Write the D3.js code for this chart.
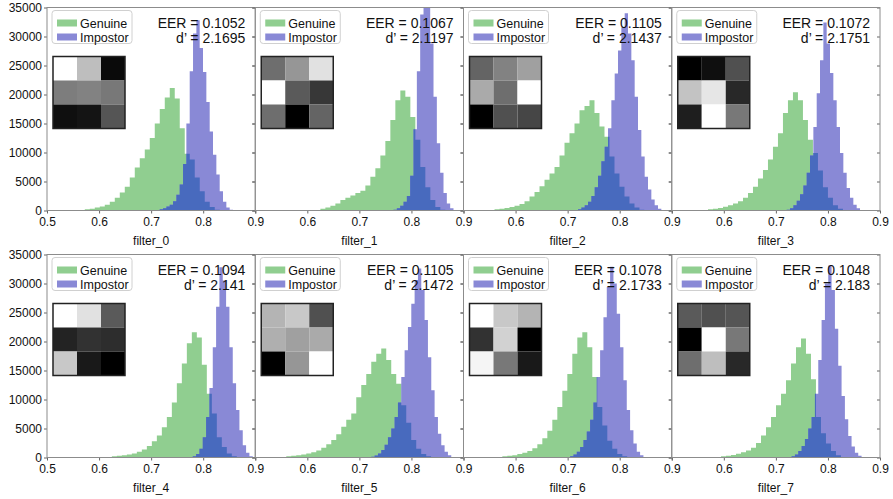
<!DOCTYPE html>
<html>
<head>
<meta charset="utf-8">
<script src="https://cdn.jsdelivr.net/npm/d3@7"></script>
<style>
  body { margin: 0; background: #fff; }
  text { font-family: "Liberation Sans", Arial, Helvetica, sans-serif; }
</style>
</head>
<body>
<svg id="chart" width="893" height="499"></svg>
<script>
// Panel labels and scores
const filterNames = ['filter_0', 'filter_1', 'filter_2', 'filter_3', 'filter_4', 'filter_5', 'filter_6', 'filter_7'];
const eerValues = [0.1052, 0.1067, 0.1105, 0.1072, 0.1094, 0.1105, 0.1078, 0.1048];
const dPrimeValues = [2.1695, 2.1197, 2.1437, 2.1751, 2.141, 2.1472, 2.1733, 2.183];

// 3x3 filter weights shown as grey levels (0 = black, 255 = white), row major
const filterWeights = [
  [255, 190, 10, 125, 130, 120, 15, 20, 85],
  [110, 150, 225, 255, 90, 55, 110, 0, 100],
  [100, 130, 160, 170, 110, 255, 0, 80, 70],
  [0, 15, 80, 195, 230, 40, 30, 255, 120],
  [255, 225, 90, 35, 50, 45, 200, 25, 0],
  [180, 200, 80, 175, 160, 170, 0, 150, 255],
  [255, 200, 180, 50, 210, 0, 245, 120, 25],
  [90, 80, 85, 0, 255, 120, 110, 190, 40]
];

// Histogram bins (left edge of first bin + counts per bin)
const genuineBinWidth = 0.0096;
const impostorBinWidth = 0.0064;

const genuineStart = [0.563, 0.6155, 0.550, 0.560, 0.615, 0.550, 0.565, 0.585];
const genuineCounts = [
  [100, 200, 300, 500, 700, 1000, 1500, 2200, 3100, 4100, 5700, 7400, 9000, 10500, 12500, 15000, 17500, 19500, 21100, 19300, 14200, 9800, 8800, 5700, 3300, 1500, 600, 150],
  [100, 300, 500, 800, 1200, 1800, 2200, 2600, 3000, 3400, 4300, 5800, 7300, 9500, 12000, 15600, 19000, 20700, 19600, 16100, 12200, 7500, 4000, 1800, 600, 150],
  [100, 200, 300, 450, 600, 800, 1100, 1600, 2400, 3200, 4200, 5300, 6400, 7500, 9500, 11700, 13300, 15000, 17300, 18000, 19000, 16800, 14500, 12700, 9300, 6400, 4100, 2400, 1200, 500, 150],
  [100, 200, 300, 450, 650, 900, 1200, 1600, 2200, 3000, 4100, 5500, 7000, 8800, 11000, 13300, 16800, 19000, 20400, 19000, 15600, 12200, 9900, 6900, 4000, 2200, 900, 300, 100],
  [100, 200, 300, 400, 500, 700, 1000, 1400, 2000, 2800, 3800, 5200, 7000, 9500, 12800, 16200, 19700, 21600, 20700, 16000, 11000, 7600, 3500, 1800, 700, 200],
  [100, 200, 300, 400, 500, 700, 900, 1200, 1700, 2300, 3000, 4000, 5300, 6500, 7600, 10400, 12500, 14400, 16500, 17900, 18800, 16800, 14400, 12700, 9000, 6000, 3000, 1500, 600, 200],
  [100, 200, 300, 400, 600, 800, 1100, 1600, 2300, 3300, 4600, 6500, 8700, 11500, 14400, 17900, 20700, 21600, 19000, 13900, 8700, 5500, 2900, 1500, 600, 200],
  [100, 200, 300, 450, 650, 900, 1200, 1700, 2500, 3800, 5200, 7000, 9000, 11000, 13300, 16200, 19000, 20500, 17900, 13500, 7000, 4200, 2400, 1100, 400, 100]
];

const impostorStart = [0.7165, 0.7656, 0.7200, 0.7208, 0.7800, 0.7229, 0.7048, 0.7302];
const impostorCounts = [
  [200, 400, 700, 1000, 1600, 2700, 4500, 8000, 15000, 24000, 30500, 32800, 28000, 23900, 18700, 13600, 9600, 6200, 3300, 1500, 500, 150],
  [150, 400, 800, 1500, 2500, 6000, 14000, 24000, 33800, 40000, 38000, 28800, 19600, 11600, 6500, 3000, 1200, 400, 100],
  [200, 500, 900, 1500, 2500, 4000, 6000, 8500, 11000, 14200, 19000, 23600, 27600, 31600, 34000, 30500, 25900, 19600, 13900, 9300, 5800, 3600, 1900, 900, 300],
  [150, 400, 900, 1700, 2800, 4300, 6500, 9500, 14400, 20200, 25900, 32400, 28800, 23700, 19000, 14400, 9900, 6500, 3900, 2200, 1000, 400, 100],
  [200, 600, 1500, 3500, 7000, 12000, 19000, 26000, 32800, 30500, 26000, 19000, 12800, 8200, 4700, 2100, 800, 200],
  [150, 350, 700, 1300, 2200, 3500, 5000, 7000, 9500, 13900, 18500, 22500, 26500, 30600, 32600, 28900, 23700, 17300, 11600, 7000, 4100, 2100, 1000, 400, 100],
  [200, 500, 1000, 1800, 3000, 4500, 6500, 9500, 13900, 18500, 24200, 29400, 32900, 30000, 24800, 19000, 13300, 8200, 4700, 2400, 1000, 400, 100],
  [200, 500, 1100, 2000, 3200, 5000, 7000, 11000, 16800, 23700, 30000, 33100, 28900, 22200, 15800, 10600, 6600, 3700, 1900, 800, 300, 100]
];

const xTicks = [0.5, 0.6, 0.7, 0.8, 0.9];
const yTicks = [0, 5000, 10000, 15000, 20000, 25000, 30000, 35000];
const legendLabels = ['Genuine', 'Impostor'];

// Layout
const panelW = 208.25;
const panelH = 203;
const marginLeft = 47;
const rowTops = [7.5, 254.5];

const colors = {
  genuine: '#90ce90',
  impostor: '#8989d6',
  overlap: '#486abe',
  frame: '#8c8c8c',
  tick: '#666',
  text: '#111'
};

const svg = d3.select('#chart');
const defs = svg.append('defs');

const x = d3.scaleLinear().domain([0.5, 0.9]).range([0, panelW]);
const y = d3.scaleLinear().domain([0, 35000]).range([panelH, 0]);

// step outline of a histogram
const toSteps = (start, w, counts) => {
  const pts = counts.map((c, j) => [start + j * w, c]);
  pts.push([start + counts.length * w, 0]);
  return pts;
};

const area = d3.area()
  .x(d => x(d[0]))
  .y0(panelH)
  .y1(d => y(d[1]))
  .curve(d3.curveStepAfter);

filterNames.forEach((name, i) => {
  const col = i % 4;
  const row = Math.floor(i / 4);
  const g = svg.append('g')
    .attr('transform', `translate(${marginLeft + col * panelW},${rowTops[row]})`);

  const genSteps = toSteps(genuineStart[i], genuineBinWidth, genuineCounts[i]);
  const impSteps = toSteps(impostorStart[i], impostorBinWidth, impostorCounts[i]);

  defs.append('clipPath').attr('id', 'plot' + i)
    .append('rect').attr('width', panelW).attr('height', panelH);
  defs.append('clipPath').attr('id', 'gen' + i)
    .append('path').attr('d', area(genSteps));

  const hist = g.append('g').attr('clip-path', `url(#plot${i})`);

  hist.append('path').attr('d', area(genSteps)).attr('fill', colors.genuine);
  hist.append('path').attr('d', area(impSteps)).attr('fill', colors.impostor);
  // where both histograms cover the same area
  hist.append('g').attr('clip-path', `url(#gen${i})`)
    .append('path').attr('d', area(impSteps)).attr('fill', colors.overlap);

  // Axes
  const yAxis = d3.axisLeft(y).tickValues(yTicks).tickSize(3).tickPadding(2)
    .tickFormat(d3.format('d'));
  if (col > 0) yAxis.tickFormat('');
  const ya = g.append('g').call(yAxis);

  const yRight = g.append('g').attr('transform', `translate(${panelW},0)`)
    .call(d3.axisLeft(y).tickValues(yTicks).tickSize(3).tickFormat(''));

  const xAxis = d3.axisBottom(x).tickValues(xTicks).tickSize(3).tickPadding(4)
    .tickFormat(d => (col > 0 && d === 0.5) ? '' : d3.format('.1f')(d));
  const xa = g.append('g').attr('transform', `translate(0,${panelH})`).call(xAxis);

  [ya, yRight, xa].forEach(a => {
    a.select('.domain').remove();
    a.selectAll('line').attr('stroke', colors.tick);
    a.selectAll('text').attr('font-size', '12px').attr('fill', colors.text)
      .attr('font-family', '"Liberation Sans", Arial, sans-serif');
  });

  // Frame
  g.append('rect')
    .attr('width', panelW).attr('height', panelH)
    .attr('fill', 'none').attr('stroke', colors.frame).attr('stroke-width', 1);

  // Legend
  const lg = g.append('g').attr('transform', 'translate(5,3)');
  lg.append('rect')
    .attr('width', 80).attr('height', 33).attr('rx', 3)
    .attr('fill', '#fff').attr('fill-opacity', 0.85)
    .attr('stroke', '#d0d0d0');
  legendLabels.forEach((lab, k) => {
    lg.append('rect')
      .attr('x', 5).attr('y', 9 + k * 14)
      .attr('width', 20).attr('height', 7)
      .attr('fill', k === 0 ? colors.genuine : colors.impostor);
    lg.append('text')
      .attr('x', 28).attr('y', 17 + k * 14)
      .attr('font-size', '12.5px').attr('fill', colors.text)
      .text(lab);
  });

  // Scores
  g.append('text')
    .attr('x', panelW - 10).attr('y', 20)
    .attr('text-anchor', 'end').attr('font-size', '14px').attr('fill', colors.text)
    .text(`EER = ${eerValues[i].toFixed(4)}`);
  g.append('text')
    .attr('x', panelW - 10).attr('y', 35)
    .attr('text-anchor', 'end').attr('font-size', '14px').attr('fill', colors.text)
    .text(`d\u2019 = ${dPrimeValues[i]}`);

  // Filter inset
  const cell = 24;
  const inset = g.append('g').attr('transform', 'translate(6,49)');
  inset.selectAll('rect.cell')
    .data(filterWeights[i])
    .enter()
    .append('rect')
    .attr('class', 'cell')
    .attr('x', (d, k) => (k % 3) * cell)
    .attr('y', (d, k) => Math.floor(k / 3) * cell)
    .attr('width', cell).attr('height', cell)
    .attr('fill', d => d3.rgb(d, d, d));
  inset.append('rect')
    .attr('width', cell * 3).attr('height', cell * 3)
    .attr('fill', 'none').attr('stroke', '#222').attr('stroke-width', 1.5);

  // Panel label
  g.append('text')
    .attr('x', panelW / 2).attr('y', panelH + 34)
    .attr('text-anchor', 'middle').attr('font-size', '12px').attr('fill', colors.text)
    .text(name);
});
</script>
</body>
</html>
